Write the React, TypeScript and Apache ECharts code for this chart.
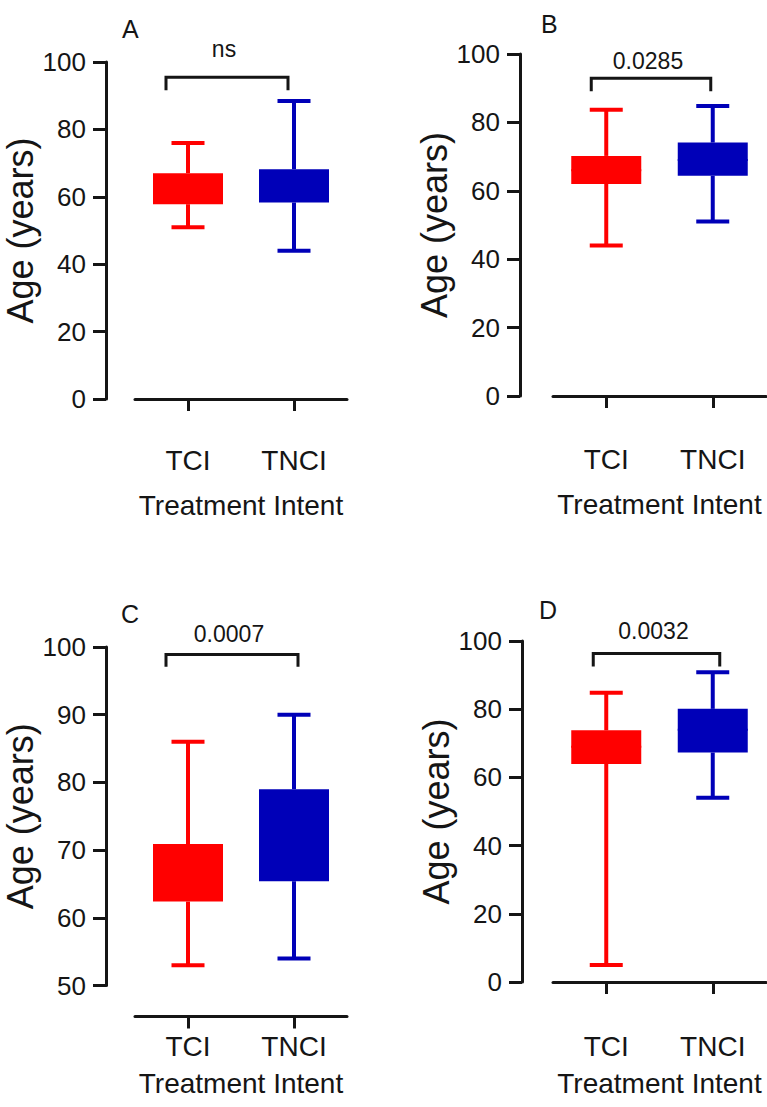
import React, { useEffect, useRef } from "react";
import * as echarts from "echarts";

const categories = ["TCI", "TNCI"];
const panelLetters = ["A", "B", "C", "D"];
const pValueLabels = ["ns", "0.0285", "0.0007", "0.0032"];
const yTitle = "Age (years)";
const xTitle = "Treatment Intent";

// [min, Q1, median, Q3, max]
const panelA_TCI = [51, 57.8, 62, 67, 76];
const panelA_TNCI = [44, 58.3, 63, 68.2, 88.4];
const panelB_TCI = [44, 62, 66, 70.2, 83.7];
const panelB_TNCI = [51, 64.4, 69, 74.1, 84.8];
const panelC_TCI = [53, 62.4, 66, 70.9, 86];
const panelC_TNCI = [54, 65.4, 72, 79, 90];
const panelD_TCI = [5, 63.9, 69, 73.8, 84.8];
const panelD_TNCI = [54, 67.3, 74, 80.1, 90.8];

// significance bracket: [bar level, leg end level]
const bracketA = [95.5, 91.6];
const bracketB = [92.9, 89.1];
const bracketC = [98.9, 97.1];
const bracketD = [96.3, 92.5];

const yMins = [0, 0, 50, 0];
const yMaxs = [100, 100, 100, 100];
const yIntervals = [20, 20, 10, 20];

const panelBoxes = [
  [panelA_TCI, panelA_TNCI],
  [panelB_TCI, panelB_TNCI],
  [panelC_TCI, panelC_TNCI],
  [panelD_TCI, panelD_TNCI],
];
const panelBrackets = [bracketA, bracketB, bracketC, bracketD];

const boxColors = ["#ff0000", "#0000b8"];
const FONT = "'Liberation Sans', Arial, sans-serif";
const INK = "#151515";

// layout (pixels)
const layouts = [
  { left: 135, top: 62, width: 212, height: 337, yOff: 29, xOff: 30.5, lblMargin: 17, nameGap: 62, bl: -22, br: -6, lblGap: 17, letter: [122, 16] },
  { left: 553, top: 54, width: 213, height: 342, yOff: 33, xOff: 32.5, lblMargin: 17, nameGap: 62, bl: -15, br: -2, lblGap: 6, letter: [541, 11] },
  { left: 135, top: 647, width: 212, height: 338.5, yOff: 29, xOff: 31, lblMargin: 16, nameGap: 53, bl: -22, br: 4, lblGap: 9, letter: [121, 601] },
  { left: 553, top: 641, width: 213, height: 341, yOff: 31, xOff: 34, lblMargin: 16, nameGap: 53, bl: -13, br: 7, lblGap: 11, letter: [539, 597] },
];

const BOX_W = 70;
const CAP_W = 33;
const LW = 4;

export default function App() {
  const ref = useRef<HTMLDivElement>(null);
  useEffect(() => {
    if (!ref.current) return;
    const chart = echarts.init(ref.current, undefined, { renderer: "svg" });

    const grids: any[] = [];
    const xAxes: any[] = [];
    const yAxes: any[] = [];
    const series: any[] = [];
    const graphics: any[] = [];

    layouts.forEach((L, i) => {
      grids.push({ left: L.left, top: L.top, width: L.width, height: L.height, containLabel: false });
      xAxes.push({
        type: "category",
        gridIndex: i,
        data: categories,
        offset: L.xOff,
        boundaryGap: true,
        axisLine: { show: true, lineStyle: { color: INK, width: 3 } },
        axisTick: { show: true, alignWithLabel: true, length: 12, lineStyle: { color: INK, width: 3 } },
        axisLabel: { fontSize: 28, color: INK, fontFamily: FONT, margin: L.lblMargin },
        name: xTitle,
        nameLocation: "middle",
        nameGap: L.nameGap,
        nameTextStyle: { fontSize: 28, color: INK, fontFamily: FONT },
        splitLine: { show: false },
      });
      yAxes.push({
        type: "value",
        gridIndex: i,
        min: yMins[i],
        max: yMaxs[i],
        interval: yIntervals[i],
        offset: L.yOff,
        axisLine: { show: true, lineStyle: { color: INK, width: 3 } },
        axisTick: { show: true, length: 13, lineStyle: { color: INK, width: 3 } },
        axisLabel: { fontSize: 26, color: INK, fontFamily: FONT, margin: 20 },
        splitLine: { show: false },
        name: yTitle,
        nameLocation: "middle",
        nameGap: 54,
        nameTextStyle: { fontSize: 36, color: INK, fontFamily: FONT },
      });

      const boxes = panelBoxes[i];
      series.push({
        type: "custom",
        xAxisIndex: i,
        yAxisIndex: i,
        encode: { x: 0, y: [1, 2, 3, 4, 5] },
        data: boxes.map((b, c) => [c, ...b]),
        renderItem: (params: any, api: any) => {
          const cat = api.value(0);
          const pMin = api.coord([cat, api.value(1)]);
          const cx = pMin[0];
          const yMin = pMin[1];
          const yQ1 = api.coord([cat, api.value(2)])[1];
          const yMed = api.coord([cat, api.value(3)])[1];
          const yQ3 = api.coord([cat, api.value(4)])[1];
          const yMax = api.coord([cat, api.value(5)])[1];
          const color = boxColors[params.dataIndex];
          const ls = { stroke: color, lineWidth: LW };
          return {
            type: "group",
            children: [
              { type: "line", shape: { x1: cx, y1: yMax, x2: cx, y2: yQ3 }, style: ls },
              { type: "line", shape: { x1: cx, y1: yQ1, x2: cx, y2: yMin }, style: ls },
              { type: "line", shape: { x1: cx - CAP_W / 2, y1: yMax, x2: cx + CAP_W / 2, y2: yMax }, style: ls },
              { type: "line", shape: { x1: cx - CAP_W / 2, y1: yMin, x2: cx + CAP_W / 2, y2: yMin }, style: ls },
              { type: "rect", shape: { x: cx - BOX_W / 2, y: yQ3, width: BOX_W, height: yQ1 - yQ3 }, style: { fill: color } },
              { type: "line", shape: { x1: cx - BOX_W / 2, y1: yMed, x2: cx + BOX_W / 2, y2: yMed }, style: { stroke: color, lineWidth: 2 } },
            ],
          };
        },
      });

      const br = panelBrackets[i];
      series.push({
        type: "custom",
        xAxisIndex: i,
        yAxisIndex: i,
        clip: false,
        encode: { x: 0, y: [1, 2] },
        data: [[0, br[0], br[1]]],
        renderItem: (params: any, api: any) => {
          const yTop = api.coord([0, api.value(1)])[1];
          const yEnd = api.coord([0, api.value(2)])[1];
          const x0 = api.coord([0, api.value(1)])[0] + L.bl;
          const x1 = api.coord([1, api.value(1)])[0] + L.br;
          return {
            type: "group",
            children: [
              {
                type: "polyline",
                shape: { points: [[x0, yEnd], [x0, yTop], [x1, yTop], [x1, yEnd]] },
                style: { stroke: INK, lineWidth: 3, fill: "none" },
              },
              {
                type: "text",
                x: (x0 + x1) / 2 - 3,
                y: yTop - L.lblGap,
                style: {
                  text: pValueLabels[i],
                  fill: INK,
                  fontSize: 23,
                  fontFamily: FONT,
                  align: "center",
                  verticalAlign: "bottom",
                },
              },
            ],
          };
        },
      });

      graphics.push({
        type: "text",
        left: L.letter[0],
        top: L.letter[1],
        style: { text: panelLetters[i], fontSize: 25, fill: INK, fontFamily: FONT },
      });
    });

    chart.setOption({
      animation: false,
      backgroundColor: "#ffffff",
      grid: grids,
      xAxis: xAxes,
      yAxis: yAxes,
      series,
      graphic: graphics,
    });
    return () => chart.dispose();
  }, []);

  return (
    <div
      ref={ref}
      style={{ position: "fixed", left: 0, top: 0, width: 767, height: 1107, background: "#fff" }}
    />
  );
}
